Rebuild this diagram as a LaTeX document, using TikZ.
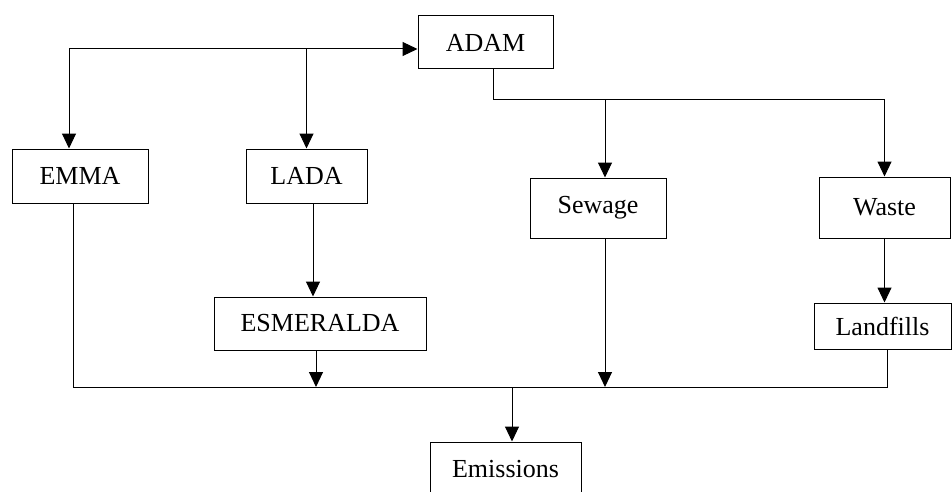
\documentclass[tikz,border=0pt]{standalone}
\usepackage{fontspec}
\setmainfont{Liberation Serif}
\usetikzlibrary{arrows.meta}
\usetikzlibrary{positioning}

\begin{document}
\begin{tikzpicture}[x=0.5pt,y=-0.5pt,>={Triangle[width=7pt,length=7.5pt]},line width=0.5pt,
    box/.style={rectangle,draw,inner sep=0pt,font=\fontsize{13}{15}\selectfont}]
  \useasboundingbox (0,0) rectangle (952,492);
  \clip (0,0) rectangle (952,492);
  % boxes
  \node[box,minimum width=67.5pt,minimum height=26.5pt] (adam) at (485.5,42.5) {ADAM};
  \node[box,minimum width=68pt,minimum height=27pt] (emma) at (80,176) {EMMA};
  \node[box,minimum width=60.5pt,minimum height=27pt] (lada) at (306.5,176) {LADA};
  \node[box,minimum width=68pt,minimum height=30pt] (sewage) at (598,208) {Sewage};
  \node[box,minimum width=65.5pt,minimum height=30.5pt] (waste) at (884.5,207.5) {Waste};
  \node[box,minimum width=106pt,minimum height=26.5pt] (esmeralda) at (320,323.5) {ESMERALDA};
  \node[box,minimum width=68.5pt,minimum height=23pt] (landfills) at (882.5,326) {Landfills};
  \node[box,minimum width=75.5pt,minimum height=27.5pt] (emissions) at (505.5,469.5) {Emissions};
  % junctions
  \coordinate (top) at (69,49);
  \coordinate (adamdrop) at (493,100);
  \coordinate (sewagecol) at (605,100);
  \coordinate (ladacol) at (313,0);
  \coordinate (emmacol) at (73,387);
  \coordinate (landcol) at (887,387);
  \coordinate (emcol) at (512,387);
  % top loop
  \draw[->] (top) -- (adam.west |- top);
  \draw[->] (top) -- (top |- emma.north);
  \draw[->] (lada.north |- top) -- (lada.north);
  % adam outputs
  \draw[->] (adam.south -| adamdrop) -- (adamdrop) -| (waste.north);
  \draw[->] (sewagecol) -- (sewagecol |- sewage.north);
  \draw[->] (ladacol |- lada.south) -- (ladacol |- esmeralda.north);
  \draw[->] (waste.south) -- (waste.south |- landfills.north);
  % collector line
  \draw (emma.south -| emmacol) -- (emmacol) -- (landcol) -- (landcol |- landfills.south);
  \draw[->] (esmeralda.south -| 316,0) -- (316,387);
  \draw[->] (sewage.south -| sewagecol) -- (sewagecol |- emcol);
  \draw[->] (emcol) -- (emcol |- emissions.north);
\end{tikzpicture}
\end{document}
